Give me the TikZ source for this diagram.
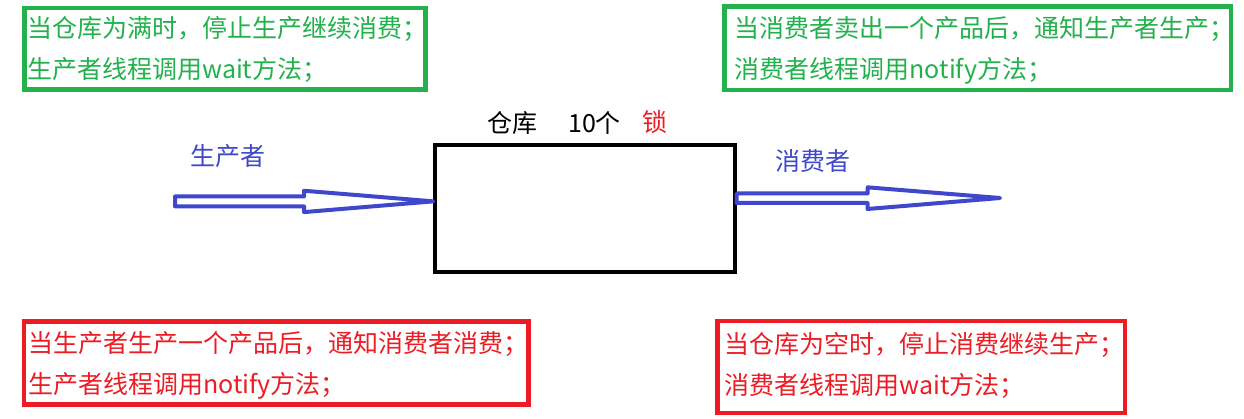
\documentclass[tikz,border=0pt]{standalone}
\usepackage{fontspec}
\setmainfont{Noto Sans CJK SC}
\usetikzlibrary{calc}
\definecolor{pgreen}{HTML}{22B14C}
\definecolor{pred}{HTML}{ED1C24}
\definecolor{pblue}{HTML}{3F48CC}
\begin{document}
\begin{tikzpicture}[x=1pt,y=-1pt,
  notebox/.style={draw, line width=4.5pt, inner sep=0pt, outer sep=0pt},
  notetext/.style={anchor=base west, align=left, inner sep=0pt, font=\fontsize{25pt}{41pt}\selectfont},
  storebox/.style={draw=black, line width=4pt, inner sep=0pt},
  lbl/.style={anchor=base, inner sep=0pt, font=\fontsize{25pt}{30pt}\selectfont},
  blockarrow/.style={draw=pblue, line width=4pt, line join=round, fill=white}]
\useasboundingbox (0,0) rectangle (1244,419);

% note boxes (text nodes anchored at the baseline of their last line)
\node[notebox, draw=pgreen, minimum width=401pt, minimum height=81.5pt] (full) at (225,48.75) {};
\node[notetext, text=pgreen] (fulltext) at (27,78.8) {当仓库为满时，停止生产继续消费；\\生产者线程调用wait方法；};

\node[notebox, draw=pgreen, minimum width=506.3pt, minimum height=83.5pt] (sold) at (977.85,48.25) {};
\node[notetext, text=pgreen] (soldtext) at (734.5,78.8) {当消费者卖出一个产品后，通知生产者生产；\\消费者线程调用notify方法；};

\node[notebox, draw=pred, minimum width=504.5pt, minimum height=83pt] (made) at (276.25,363) {};
\node[notetext, text=pred] (madetext) at (28,393.8) {当生产者生产一个产品后，通知消费者消费；\\生产者线程调用notify方法；};

\node[notebox, draw=pred, minimum width=407.5pt, minimum height=92pt] (empty) at (921.25,367) {};
\node[notetext, text=pred] (emptytext) at (724.5,394) {当仓库为空时，停止消费继续生产；\\消费者线程调用wait方法；};

% store
\node[storebox, minimum width=299.4pt, minimum height=127.3pt] (store) at (585,208.35) {};
\node[lbl] (storename) at (512,133) {仓库};
\node[lbl] (storecount) at (594.5,133) {10个};
\node[lbl, text=pred] (lock) at (654.5,131.5) {锁};

% producer / consumer labels
\node[lbl, text=pblue] (producer) at (227.5,166) {生产者};
\node[lbl, text=pblue] (consumer) at (813,171) {消费者};

% arrows
\coordinate (ptail) at (175,201.5);
\coordinate (ctip) at (1000,198);
\draw[blockarrow] (ptail) ++(0,-5) -- ++(129,0) -- ++(0,-5.75)
  -- ([yshift=7pt]store.west) -- ++(-129.3,10.75) -- ++(0,-5.75) -- ++(-129,0) -- cycle;
\draw[blockarrow] ([yshift=10pt]store.east) ++(0,-5) -- ++(131,0) -- ++(0,-6)
  -- (ctip) -- ++(-132.5,11) -- ++(0,-6) -- ++(-131,0) -- cycle;
\end{tikzpicture}
\end{document}
